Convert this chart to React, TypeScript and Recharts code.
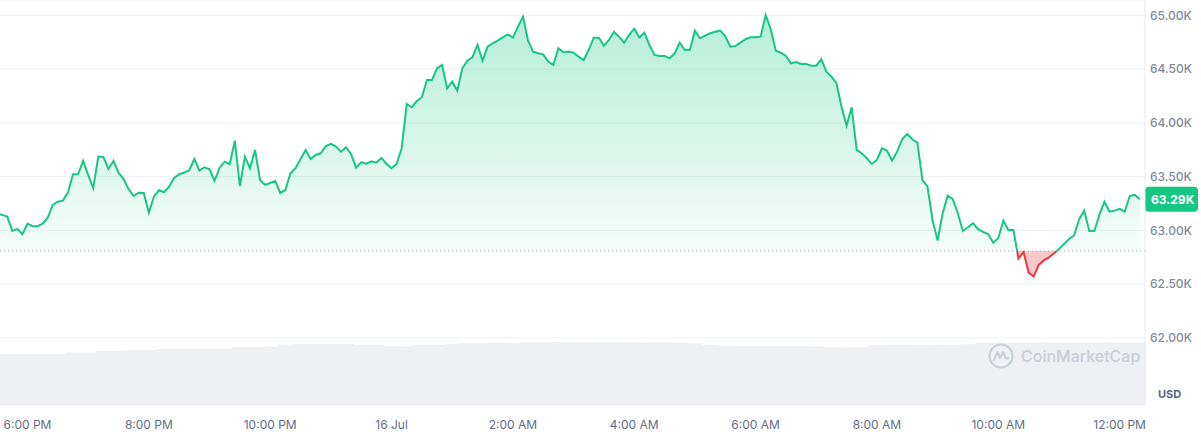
import React from 'react';
import {
  Area,
  CartesianGrid,
  ComposedChart,
  ReferenceLine,
  XAxis,
  YAxis,
} from 'recharts';

// time is in minutes from 6:00 PM (15 Jul); prices every 5 min, volume every 15 min
const PRICE_START = -30;
const PRICE_STEP = 5;
const VOLUME_START = -30;
const VOLUME_STEP = 15;

// BTC price, USD
const prices = [
  63158, 63144, 63128, 62995, 63014, 62964, 63063, 63039, 63039, 63063,
  63119, 63237, 63267, 63277, 63351, 63522, 63522, 63646, 63516, 63392,
  63686, 63683, 63571, 63646, 63537, 63478, 63383, 63320, 63351, 63348,
  63165, 63314, 63373, 63355, 63407, 63488, 63522, 63537, 63559, 63664,
  63556, 63587, 63569, 63460, 63583, 63639, 63615, 63834, 63413, 63686,
  63578, 63748, 63469, 63423, 63441, 63460, 63348, 63376, 63531, 63578,
  63661, 63748, 63664, 63701, 63717, 63785, 63804, 63779, 63732, 63773,
  63708, 63583, 63634, 63621, 63643, 63630, 63674, 63618, 63578, 63618,
  63764, 64175, 64145, 64203, 64238, 64398, 64398, 64507, 64538, 64321,
  64383, 64299, 64507, 64578, 64609, 64724, 64578, 64708, 64740, 64764,
  64795, 64823, 64792, 64894, 64987, 64764, 64662, 64647, 64637, 64569,
  64538, 64693, 64656, 64662, 64652, 64615, 64584, 64677, 64792, 64792,
  64717, 64770, 64847, 64801, 64745, 64817, 64875, 64795, 64838, 64724,
  64631, 64622, 64622, 64600, 64647, 64745, 64677, 64677, 64857, 64786,
  64810, 64833, 64847, 64857, 64807, 64708, 64714, 64745, 64777, 64795,
  64795, 64801, 65003, 64870, 64671, 64652, 64622, 64554, 64566, 64547,
  64547, 64531, 64531, 64591, 64476, 64429, 64368, 64150, 63974, 64145,
  63748, 63717, 63671, 63618, 63655, 63764, 63741, 63648, 63732, 63847,
  63897, 63847, 63816, 63469, 63407, 63097, 62905, 63160, 63323, 63290,
  63160, 62995, 63029, 63067, 63011, 62986, 62967, 62886, 62927, 63091,
  63004, 63004, 62739, 62800, 62608, 62572, 62679, 62721, 62749, 62786,
  62828, 62874, 62921, 62953, 63104, 63184, 62995, 62995, 63144, 63267,
  63174, 63184, 63200, 63174, 63320, 63330, 63290,
];

// 24h volume, billions USD
const volumes = [
  28.0, 28.0, 28.0, 28.0, 28.1, 28.9, 28.9, 29.7, 29.7, 30.3,
  30.3, 30.8, 30.8, 30.8, 30.9, 31.0, 31.9, 31.9, 32.0, 33.3,
  33.5, 33.5, 33.6, 33.5, 33.0, 33.0, 32.3, 32.2, 33.0, 33.0,
  33.6, 34.1, 34.1, 34.2, 34.1, 34.5, 34.5, 34.6, 34.5, 34.5,
  34.4, 34.5, 34.5, 34.4, 34.4, 34.2, 34.0, 33.0, 32.6, 32.5,
  32.5, 32.4, 32.5, 32.5, 32.2, 31.7, 31.6, 31.8, 32.8, 33.0,
  33.0, 33.1, 33.0, 33.2, 33.4, 34.2, 34.3, 34.3, 34.3, 34.4,
  34.3, 34.3, 34.3, 34.4, 34.3, 34.3, 34.3,
];

const openPrice = 62809;
const xTicks = [0, 120, 240, 360, 480, 600, 720, 840, 960, 1080];
const xTickLabels = [
  '6:00 PM', '8:00 PM', '10:00 PM', '16 Jul', '2:00 AM',
  '4:00 AM', '6:00 AM', '8:00 AM', '10:00 AM', '12:00 PM',
];
const yTicks = [62000, 62500, 63000, 63500, 64000, 64500, 65000];

const WIDTH = 1201;
const HEIGHT = 440;
const X_AXIS_H = 35;
const Y_AXIS_W = 56;
const PLOT_H = HEIGHT - X_AXIS_H;
const PRICE_DOMAIN: [number, number] = [61377, 65142];
const TIME_DOMAIN: [number, number] = [-27.2, 1105.1];
const VOLUME_DOMAIN: [number, number] = [0, 222.75];

const GREEN = '#16c784';
const RED = '#ea3943';

// merge both series on one time axis
const rows = new Map<number, { t: number; price: number | null; volume: number | null }>();
prices.forEach((price, i) => {
  const t = PRICE_START + i * PRICE_STEP;
  rows.set(t, { t, price, volume: null });
});
volumes.forEach((volume, i) => {
  const t = VOLUME_START + i * VOLUME_STEP;
  const row = rows.get(t);
  if (row) row.volume = volume;
  else rows.set(t, { t, price: null, volume });
});
const data = Array.from(rows.values()).sort((a, b) => a.t - b.t);

const lastPrice = prices[prices.length - 1];
const fmtK = (v: number) => `${(v / 1000).toFixed(2)}K`;

// pixel row of the open price, for the green/red split of the gradients
const baseY =
  ((PRICE_DOMAIN[1] - openPrice) / (PRICE_DOMAIN[1] - PRICE_DOMAIN[0])) * PLOT_H;
const splitOff = baseY / PLOT_H;

const renderBadge = (props: any) => {
  const vb = props.viewBox || {};
  const x = (vb.x || 0) + (vb.width || 0);
  const y = vb.y || 0;
  return (
    <g>
      <rect x={x} y={y - 12.5} width={53} height={25} rx={4} fill={GREEN} />
      <text x={x + 6} y={y + 4.5} fill="#fff" fontSize={12} fontWeight={700}>
        {fmtK(lastPrice)}
      </text>
    </g>
  );
};

const Watermark = () => (
  <div
    style={{
      position: 'absolute',
      left: 988,
      top: 343,
      display: 'flex',
      alignItems: 'center',
      gap: 7,
      color: '#c9ced8',
      fontSize: 16,
      fontWeight: 500,
    }}
  >
    <svg width={26} height={26} viewBox="0 0 26 26">
      <circle cx={13} cy={13} r={11.5} fill="none" stroke="#c9ced8" strokeWidth={2} />
      <path
        d="M6 17 L9.5 9 L12 15 L15 9 L17.5 14.5 Q18.5 16.5 20 15"
        fill="none"
        stroke="#c9ced8"
        strokeWidth={2}
        strokeLinejoin="round"
        strokeLinecap="round"
      />
    </svg>
    <span>CoinMarketCap</span>
  </div>
);

export default function App() {
  return (
    <div
      style={{
        position: 'absolute',
        left: 0,
        top: 0,
        width: WIDTH,
        height: HEIGHT,
        background: '#fff',
        fontFamily: 'Inter, "Noto Sans", sans-serif',
      }}
    >
      <ComposedChart
        width={WIDTH}
        height={HEIGHT}
        data={data}
        margin={{ top: 0, right: 0, bottom: 0, left: 0 }}
      >
        <defs>
          <linearGradient id="lineStroke" gradientUnits="userSpaceOnUse" x1={0} y1={0} x2={0} y2={PLOT_H}>
            <stop offset={0} stopColor={GREEN} />
            <stop offset={splitOff} stopColor={GREEN} />
            <stop offset={splitOff} stopColor={RED} />
            <stop offset={1} stopColor={RED} />
          </linearGradient>
          <linearGradient id="areaFill" gradientUnits="userSpaceOnUse" x1={0} y1={0} x2={0} y2={PLOT_H}>
            <stop offset={0} stopColor={GREEN} stopOpacity={0.33} />
            <stop offset={splitOff} stopColor={GREEN} stopOpacity={0.04} />
            <stop offset={splitOff} stopColor={RED} stopOpacity={0.28} />
            <stop offset={1} stopColor={RED} stopOpacity={0.28} />
          </linearGradient>
        </defs>
        <CartesianGrid yAxisId="price" vertical={false} stroke="#eff2f5" />
        <XAxis
          dataKey="t"
          type="number"
          domain={TIME_DOMAIN}
          allowDataOverflow
          ticks={xTicks}
          tickFormatter={(v: number) => xTickLabels[xTicks.indexOf(v)] ?? ''}
          axisLine={false}
          tickLine={false}
          tickSize={0}
          tickMargin={15}
          height={X_AXIS_H}
          tick={{ fill: '#616e85', fontSize: 12 }}
        />
        <YAxis
          yAxisId="price"
          orientation="right"
          domain={PRICE_DOMAIN}
          allowDataOverflow
          ticks={yTicks}
          tickFormatter={fmtK}
          width={Y_AXIS_W}
          axisLine={{ stroke: '#e6e9ee' }}
          tickLine={false}
          tickSize={0}
          tickMargin={5}
          tick={{ fill: '#808a9d', fontSize: 12, fontWeight: 500 }}
        />
        <YAxis yAxisId="vol" hide domain={VOLUME_DOMAIN} allowDataOverflow />
        <Area
          yAxisId="vol"
          dataKey="volume"
          type="step"
          connectNulls
          stroke="none"
          fill="#eef0f4"
          fillOpacity={1}
          dot={false}
          activeDot={false}
          isAnimationActive={false}
        />
        <Area
          yAxisId="price"
          dataKey="price"
          type="linear"
          baseValue={openPrice}
          stroke="url(#lineStroke)"
          strokeWidth={2}
          fill="url(#areaFill)"
          fillOpacity={1}
          dot={false}
          activeDot={false}
          isAnimationActive={false}
        />
        <ReferenceLine
          yAxisId="price"
          y={openPrice}
          stroke="#a1a7bb"
          strokeDasharray="1 3"
        />
        <ReferenceLine
          yAxisId="price"
          y={lastPrice}
          stroke="none"
          label={renderBadge}
        />
      </ComposedChart>
      <Watermark />
      <div
        style={{
          position: 'absolute',
          left: 1158,
          top: 387,
          fontSize: 11,
          fontWeight: 700,
          color: '#58667e',
        }}
      >
        USD
      </div>
    </div>
  );
}
